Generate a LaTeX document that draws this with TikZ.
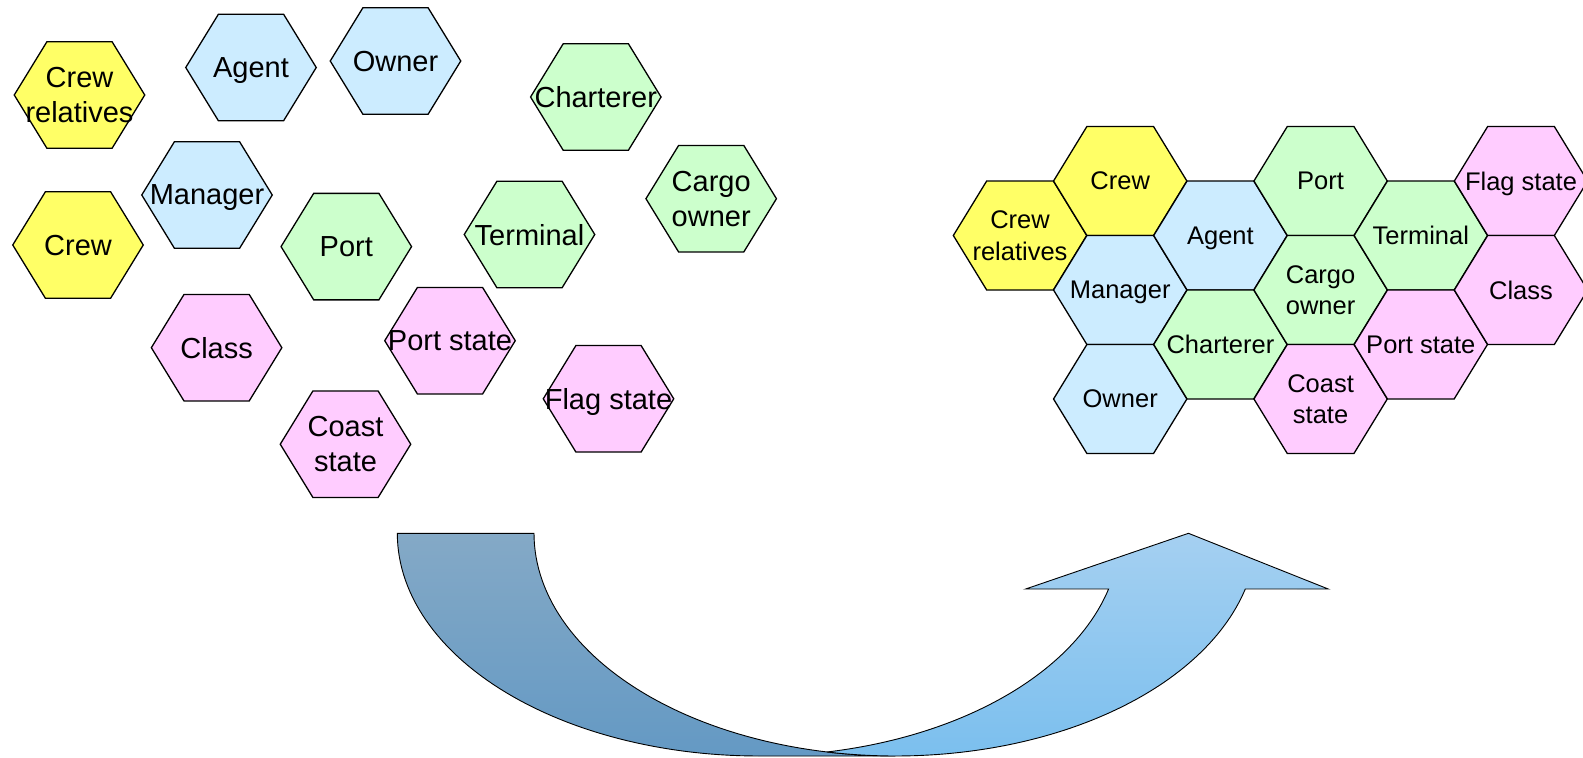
\documentclass[tikz,border=0pt]{standalone}
\usepackage{fontspec}
\setmainfont{Liberation Sans}

\definecolor{hexyellow}{HTML}{FFFF66}
\definecolor{hexblue}{HTML}{CCECFF}
\definecolor{hexgreen}{HTML}{CCFFCC}
\definecolor{hexpink}{HTML}{FFCCFF}
\definecolor{backtop}{HTML}{84A9C6}
\definecolor{backbot}{HTML}{6499C4}
\definecolor{fronttop}{HTML}{A5D0F1}
\definecolor{frontbot}{HTML}{7BBFEE}

\tikzset{
  hexline/.style={draw=black, line width=1.3pt, line join=miter},
  biglabel/.style={font=\fontsize{29}{35}\selectfont, align=center, inner sep=0pt},
  smalllabel/.style={font=\fontsize{25.5}{31.5}\selectfont, align=center, inner sep=0pt},
  oneline/.style={text depth=0pt},
  twolines/.style={},
  arrowline/.style={draw=black, line width=0.9pt, line join=miter},
}

% loose hexagon: name, x, y, fill, label options, label
\newcommand\hexL[6]{%
  \filldraw[hexline, fill=#4]
    ({#2-65.25},#3) -- ({#2-32.6},{#3-53.25}) -- ({#2+32.6},{#3-53.25})
    -- ({#2+65.25},#3) -- ({#2+32.6},{#3+53.25}) -- ({#2-32.6},{#3+53.25}) -- cycle;
  \node[biglabel, #5] (#1) at (#2,#3) {#6};}

% tiled hexagon: name, x, y, fill, label options, label
\newcommand\hexR[6]{%
  \filldraw[hexline, fill=#4]
    ({#2-66.67},#3) -- ({#2-33.33},{#3-54.5}) -- ({#2+33.33},{#3-54.5})
    -- ({#2+66.67},#3) -- ({#2+33.33},{#3+54.5}) -- ({#2-33.33},{#3+54.5}) -- cycle;
  \node[smalllabel, #5] (#1) at (#2,#3) {#6};}

\begin{document}
\begin{tikzpicture}[x=1pt, y=-1pt]
\useasboundingbox (0,0) rectangle (1583,758);

% scattered stakeholders
\hexL{lcrewrel}{79.5}{95}{hexyellow}{twolines}{Crew\\relatives}
\hexL{lagent}{251}{67.5}{hexblue}{oneline}{Agent}
\hexL{lowner}{395.5}{61}{hexblue}{oneline}{Owner}
\hexL{lcharter}{595.8}{97}{hexgreen}{oneline}{Charterer}
\hexL{lcargo}{711.2}{198.7}{hexgreen}{twolines}{Cargo\\owner}
\hexL{lmanager}{207}{195}{hexblue}{oneline}{Manager}
\hexL{lcrew}{78}{245}{hexyellow}{oneline}{Crew}
\hexL{lport}{346.3}{246.6}{hexgreen}{oneline}{Port}
\hexL{lterminal}{529.5}{234.5}{hexgreen}{oneline}{Terminal}
\hexL{lclass}{216.6}{347.7}{hexpink}{oneline}{Class}
\hexL{lportstate}{450}{340.7}{hexpink}{oneline}{Port state}
\hexL{lflag}{608.5}{398.8}{hexpink}{oneline}{Flag state}
\hexL{lcoast}{345.5}{444.2}{hexpink}{twolines}{Coast\\state}

% tiled stakeholders
\hexR{rcrewrel}{1020}{235.5}{hexyellow}{twolines}{Crew\\relatives}
\hexR{rcrew}{1120.2}{181}{hexyellow}{oneline}{Crew}
\hexR{rmanager}{1120.2}{290}{hexblue}{oneline}{Manager}
\hexR{rowner}{1120.2}{399}{hexblue}{oneline}{Owner}
\hexR{ragent}{1220.4}{235.5}{hexblue}{oneline}{Agent}
\hexR{rcharter}{1220.4}{344.5}{hexgreen}{oneline}{Charterer}
\hexR{rport}{1320.6}{181}{hexgreen}{oneline}{Port}
\hexR{rcargo}{1320.6}{290}{hexgreen}{twolines}{Cargo\\owner}
\hexR{rcoast}{1320.6}{399}{hexpink}{twolines}{Coast\\state}
\hexR{rterminal}{1420.8}{235.5}{hexgreen}{oneline}{Terminal}
\hexR{rportstate}{1420.8}{344.5}{hexpink}{oneline}{Port state}
\hexR{rflag}{1521}{181}{hexpink}{oneline}{Flag state}
\hexR{rclass}{1521}{290}{hexpink}{oneline}{Class}

% curved up arrow: back band between the left halves of two ellipses
\shadedraw[arrowline, top color=backtop, bottom color=backbot]
  plot[domain=180:90, samples=60, variable=\q] ({758.7+361.4*cos(\q)},{533.3+222.7*sin(\q)})
  -- plot[domain=90:180, samples=60, variable=\q] ({895.4+361.4*cos(\q)},{533.3+222.7*sin(\q)})
  -- cycle;

% front band with the arrow head
\shadedraw[arrowline, top color=fronttop, bottom color=frontbot]
  plot[domain=79.1:14.48, samples=60, variable=\q] ({758.7+361.4*cos(\q)},{533.3+222.7*sin(\q)})
  -- (1025.65,589) -- (1188.45,533.3) -- (1328.25,589)
  -- plot[domain=14.48:100.9, samples=70, variable=\q] ({895.4+361.4*cos(\q)},{533.3+222.7*sin(\q)})
  -- cycle;
\end{tikzpicture}
\end{document}
